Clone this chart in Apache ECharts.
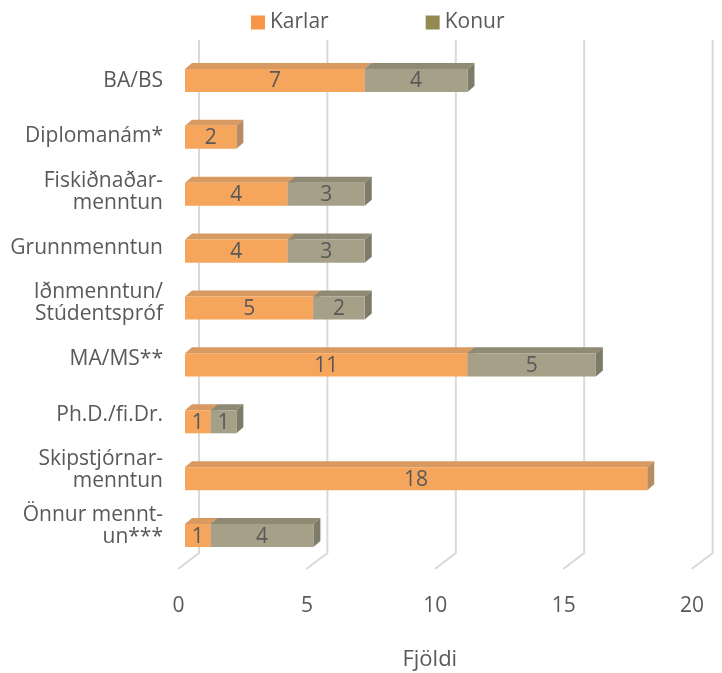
<!DOCTYPE html>
<html>
<head>
<meta charset="utf-8">
<script src="https://cdn.jsdelivr.net/npm/echarts@6/dist/echarts.min.js"></script>
<style>html,body{margin:0;padding:0;background:#fff;}#c{width:722px;height:673px;}</style>
</head>
<body>
<div id="c"></div>
<script>
const categories = ['BA/BS','Diplomanám*','Fiskiðnaðar-\nmenntun','Grunnmenntun','Iðnmenntun/\nStúdentspróf','MA/MS**','Ph.D./fi.Dr.','Skipstjórnar-\nmenntun','Önnur mennt-\nun***'];
const karlar = [7,2,4,4,5,11,1,18,1];
const konur  = [4,0,3,3,2,5,1,0,4];
const xTicks = [0,5,10,15,20];

const FONT = '"Open Sans", sans-serif';
const TXT = '#595959';

const karlarData = categories.map((c,i)=>[i,0,karlar[i]]);
const konurData = categories.map((c,i)=>[i,karlar[i],karlar[i]+konur[i]]);

function makeBox(faces){
  return function(params, api){
    const cat = api.value(0), s = api.value(1), e = api.value(2);
    if (e - s <= 0) return null;
    const p0 = api.coord([s, cat]);
    const p1 = api.coord([e, cat]);
    const h = api.size([0,1])[1]*0.405;
    const dx = 7, dy = 6;
    const x0 = p0[0], x1 = p1[0];
    const y0 = p0[1]-h/2, y1 = p0[1]+h/2;
    return {type:'group', children:[
      {type:'polygon', shape:{points:[[x0,y0],[x0+dx,y0-dy],[x1+dx,y0-dy],[x1,y0]]}, style:{fill:faces.top}},
      {type:'polygon', shape:{points:[[x1,y0],[x1+dx,y0-dy],[x1+dx,y1-dy],[x1,y1]]}, style:{fill:faces.side}},
      {type:'rect', shape:{x:x0,y:y0,width:x1-x0,height:h}, style:{fill:faces.front}},
      {type:'text', style:{text:String(e-s), x:(x0+x1)/2, y:p0[1]+1, align:'center', verticalAlign:'middle', fill:TXT, font:'21px '+FONT}}
    ]};
  };
}

const chart = echarts.init(document.getElementById('c'), null, {renderer:'canvas'});
chart.setOption({
  animation:false,
  backgroundColor:'#ffffff',
  legend:{
    left:246, top:7, itemWidth:14, itemHeight:14, itemGap:97, icon:'rect',
    textStyle:{color:TXT, fontSize:21, fontFamily:FONT},
    data:['Karlar','Konur']
  },
  grid:[
    {left:185, right:23.4, top:52, height:512, containLabel:false, outerBoundsMode:'none'},
    {left:185, right:23.4, top:52.85, height:501, containLabel:false, outerBoundsMode:'none'}
  ],
  xAxis:[
    {type:'value', gridIndex:0, min:0, max:20, interval:5,
     axisLine:{show:false}, axisTick:{show:false}, splitLine:{show:false},
     axisLabel:{color:TXT, fontSize:21, fontFamily:FONT, margin:32, padding:[0,13,0,0]},
     name:'Fjöldi', nameLocation:'middle', nameGap:85,
     nameTextStyle:{color:TXT, fontSize:22, fontFamily:FONT, padding:[0,24,0,0]}},
    {type:'value', gridIndex:1, min:0, max:20, show:false}
  ],
  yAxis:[
    {type:'category', gridIndex:0, inverse:true, data:categories,
     axisLine:{show:false}, axisTick:{show:false}, axisLabel:{show:false}, splitLine:{show:false}},
    {type:'category', gridIndex:1, inverse:true, data:categories,
     axisLine:{show:false}, axisTick:{show:false}, splitLine:{show:false},
     axisLabel:{color:TXT, fontSize:21, fontFamily:FONT, lineHeight:22, margin:22, align:'right'}}
  ],
  series:[
    {type:'custom', name:'grid', xAxisIndex:0, yAxisIndex:0, z:1, silent:true,
     data:xTicks.map(v=>[v,0]), encode:{x:0,y:1},
     renderItem:function(params, api){
       const x = api.coord([api.value(0),0])[0];
       const top = params.coordSys.y, bottom = params.coordSys.y + params.coordSys.height;
       return {type:'polyline', shape:{points:[[x+14,top-12],[x+14,bottom-11],[x-7,bottom+5]]},
               style:{stroke:'#d9d9d9', lineWidth:2, fill:null}};
     }},
    {type:'custom', name:'Karlar', xAxisIndex:0, yAxisIndex:0, z:3,
     itemStyle:{color:'#F79646'},
     data:karlarData, encode:{x:[1,2], y:0},
     renderItem:makeBox({front:'#F5A55C', top:'#D99A62', side:'#B88B62'})},
    {type:'custom', name:'Konur', xAxisIndex:0, yAxisIndex:0, z:4,
     itemStyle:{color:'#938953'},
     data:konurData, encode:{x:[1,2], y:0},
     renderItem:makeBox({front:'#A6A088', top:'#8E8A74', side:'#7E7B68'})}
  ]
});
</script>
</body>
</html>
